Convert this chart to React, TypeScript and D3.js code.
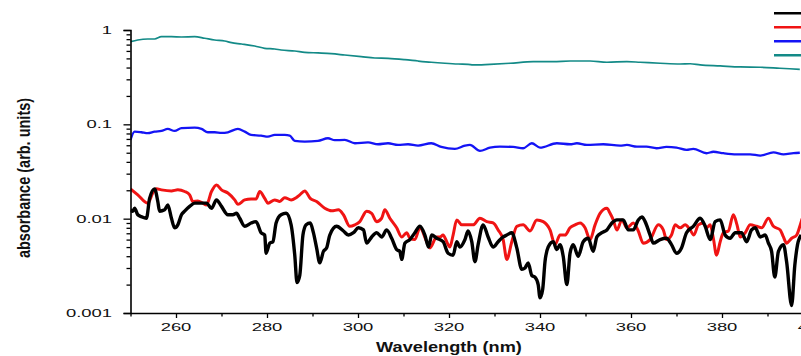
import { useRef, useEffect } from "react";
import * as d3 from "d3";

// absorbance spectra, wavelengths in nm
const blackNm = [250, 250.5, 250.9, 251.6, 252.4, 253.5, 254.2, 255.3, 256.0, 256.4, 257.5, 258.2, 259.0, 259.7, 260.4, 261.2, 261.9, 263.0, 264.1, 265.2, 266.7, 267.8, 268.9, 270.0, 271.4, 272.5, 273.3, 274.0, 275.1, 276.5, 277.6, 278.7, 279.5, 279.8, 280.6, 281.3, 282.0, 283.1, 284.2, 285.3, 286.1, 286.6, 287.2, 287.9, 288.6, 289.5, 290.2, 290.9, 291.6, 292.4, 293.1, 293.8, 295.3, 296.8, 297.9, 299.0, 300.1, 301.2, 301.9, 303.0, 304.1, 305.2, 306.3, 307.4, 308.5, 309.2, 309.6, 310.3, 311.4, 312.5, 313.6, 314.7, 315.5, 316.2, 317.3, 318.7, 319.8, 320.9, 321.7, 322.4, 323.5, 324.2, 325.0, 325.7, 326.4, 327.5, 328.6, 329.7, 330.8, 331.9, 332.7, 333.8, 334.9, 336.0, 336.7, 337.4, 338.2, 338.9, 339.6, 340.0, 340.6, 341.1, 341.8, 342.9, 343.7, 344.4, 345.1, 345.9, 346.6, 347.3, 348.4, 349.5, 350.6, 351.7, 352.5, 353.6, 354.7, 355.8, 356.9, 358.3, 359.4, 360.5, 361.6, 362.4, 363.1, 364.2, 364.9, 366.4, 367.8, 368.9, 370.0, 371.1, 372.2, 373.7, 375.2, 376.3, 377.4, 378.5, 379.6, 380.7, 381.8, 382.9, 384.3, 385.4, 386.5, 387.3, 388.4, 389.5, 390.2, 390.9, 391.6, 392.4, 393.5, 394.2, 395.3, 396.0, 396.6, 397.4];
const blackAbs = [0.0124, 0.012, 0.0129, 0.011, 0.0105, 0.0101, 0.0164, 0.0207, 0.0152, 0.012, 0.0124, 0.014, 0.0101, 0.008, 0.0086, 0.011, 0.012, 0.0135, 0.0146, 0.0146, 0.0146, 0.0129, 0.0158, 0.0135, 0.011, 0.011, 0.0114, 0.0101, 0.0083, 0.009, 0.0093, 0.0071, 0.0067, 0.0043, 0.0055, 0.0057, 0.009, 0.011, 0.0114, 0.0086, 0.0041, 0.0021, 0.0025, 0.0067, 0.0086, 0.009, 0.0071, 0.0049, 0.0034, 0.0045, 0.0049, 0.0067, 0.0083, 0.0074, 0.0067, 0.0071, 0.008, 0.0076, 0.0055, 0.0064, 0.0071, 0.0064, 0.0076, 0.0062, 0.0047, 0.0045, 0.0037, 0.0055, 0.006, 0.0071, 0.0083, 0.0067, 0.005, 0.0067, 0.0062, 0.0057, 0.0043, 0.0041, 0.0057, 0.005, 0.006, 0.0074, 0.0057, 0.0035, 0.0053, 0.0086, 0.0064, 0.005, 0.0057, 0.0064, 0.0067, 0.0071, 0.0049, 0.0029, 0.003, 0.0034, 0.0025, 0.0024, 0.002, 0.00145, 0.0018, 0.0035, 0.005, 0.0057, 0.0047, 0.0053, 0.004, 0.002, 0.0043, 0.0053, 0.004, 0.0057, 0.0062, 0.0045, 0.0064, 0.0071, 0.0076, 0.009, 0.0097, 0.0097, 0.0076, 0.0076, 0.0097, 0.0104, 0.0093, 0.0067, 0.0055, 0.006, 0.0062, 0.0053, 0.0043, 0.0049, 0.0071, 0.0083, 0.0101, 0.0083, 0.006, 0.0093, 0.0097, 0.0067, 0.0062, 0.0071, 0.0071, 0.0057, 0.0076, 0.008, 0.0064, 0.0067, 0.0055, 0.0045, 0.0024, 0.0045, 0.0053, 0.0035, 0.0012, 0.0032, 0.0053, 0.0067];

const redNm = [250, 251.6, 253.8, 254.9, 255.7, 256.8, 259.0, 260.4, 261.9, 263.0, 263.7, 264.8, 265.9, 266.7, 267.8, 268.9, 270.0, 271.4, 272.9, 273.6, 275.1, 276.5, 277.6, 278.4, 279.5, 280.2, 281.7, 282.8, 283.9, 285.3, 286.4, 287.2, 288.3, 289.5, 290.9, 292.7, 294.2, 295.7, 296.8, 298.2, 299.3, 300.4, 301.9, 303.0, 304.1, 305.2, 305.9, 307.0, 308.5, 309.6, 310.7, 311.4, 312.5, 313.6, 315.1, 315.8, 317.3, 318.0, 318.7, 319.5, 320.2, 320.9, 321.7, 322.8, 323.9, 325.3, 326.8, 328.3, 329.7, 330.8, 331.9, 332.7, 333.8, 334.9, 336.3, 337.8, 339.3, 340.7, 342.2, 343.3, 344.4, 345.5, 346.6, 347.7, 348.8, 349.9, 351.0, 352.1, 353.2, 354.7, 355.4, 356.1, 356.9, 358.0, 359.1, 360.5, 361.6, 362.7, 364.2, 366.0, 367.1, 367.8, 368.9, 369.7, 370.8, 371.9, 373.0, 373.8, 374.8, 375.9, 376.6, 377.4, 378.1, 378.8, 379.6, 380.3, 381.4, 382.5, 383.3, 384.0, 385.1, 386.2, 387.6, 388.7, 390.2, 391.3, 392.8, 393.5, 394.2, 395.3, 396.4, 397.2, 397.6];
const redAbs = [0.0207, 0.0179, 0.0146, 0.0187, 0.0207, 0.0202, 0.0197, 0.0202, 0.0194, 0.0179, 0.0152, 0.0154, 0.0146, 0.014, 0.0194, 0.0228, 0.0202, 0.0187, 0.0158, 0.0142, 0.0158, 0.0162, 0.0162, 0.0194, 0.0164, 0.0146, 0.0158, 0.0152, 0.0167, 0.0158, 0.0167, 0.0179, 0.0197, 0.0164, 0.0152, 0.0129, 0.0121, 0.0124, 0.011, 0.0083, 0.0086, 0.0093, 0.012, 0.0114, 0.0093, 0.0101, 0.0124, 0.0101, 0.008, 0.0064, 0.0071, 0.0062, 0.006, 0.008, 0.0057, 0.0049, 0.0064, 0.0064, 0.0067, 0.0057, 0.005, 0.0067, 0.0097, 0.0086, 0.0086, 0.0086, 0.0101, 0.0093, 0.009, 0.0076, 0.006, 0.0037, 0.0057, 0.0083, 0.0086, 0.0074, 0.0097, 0.0093, 0.0076, 0.0053, 0.0067, 0.0067, 0.008, 0.0086, 0.009, 0.008, 0.006, 0.0086, 0.0114, 0.0129, 0.0114, 0.0097, 0.0076, 0.0097, 0.008, 0.009, 0.0074, 0.0055, 0.006, 0.0086, 0.0076, 0.006, 0.0067, 0.0086, 0.008, 0.0086, 0.0076, 0.0067, 0.0086, 0.009, 0.008, 0.0086, 0.0062, 0.0041, 0.0057, 0.0071, 0.0074, 0.011, 0.0086, 0.0064, 0.0071, 0.0086, 0.0083, 0.008, 0.0101, 0.0083, 0.0076, 0.0064, 0.0055, 0.0062, 0.0067, 0.0086, 0.01];

const blueNm = [250, 250.9, 252.4, 253.8, 255.3, 256.8, 258.2, 259.7, 261.2, 264.1, 265.6, 267.0, 268.5, 270.0, 271.4, 273.6, 275.1, 276.5, 278.7, 280.2, 281.7, 283.9, 285.0, 286.1, 288.3, 291.2, 293.4, 294.9, 297.1, 299.3, 302.2, 304.4, 306.6, 308.8, 311.0, 313.2, 316.1, 318.3, 321.3, 323.5, 324.6, 326.8, 329.0, 331.2, 334.1, 336.3, 338.2, 340.0, 343.7, 346.6, 348.1, 350.3, 353.9, 357.6, 359.1, 361.3, 363.4, 365.6, 367.8, 370.0, 372.2, 373.7, 376.6, 378.1, 380.3, 383.2, 386.2, 388.4, 391.3, 393.5, 395.7, 397.1];
const blueAbs = [0.0684, 0.0837, 0.0824, 0.0805, 0.0837, 0.0851, 0.0894, 0.0851, 0.091, 0.0923, 0.0894, 0.0824, 0.0824, 0.0811, 0.0824, 0.0894, 0.0837, 0.0772, 0.076, 0.0741, 0.0772, 0.0772, 0.076, 0.0667, 0.0656, 0.0667, 0.0712, 0.0679, 0.0684, 0.063, 0.0645, 0.0615, 0.063, 0.0605, 0.0615, 0.0595, 0.063, 0.0576, 0.0549, 0.0595, 0.0605, 0.0523, 0.0566, 0.058, 0.0576, 0.0558, 0.063, 0.0566, 0.063, 0.0615, 0.063, 0.0605, 0.0615, 0.0595, 0.0605, 0.058, 0.058, 0.0558, 0.0576, 0.0566, 0.0536, 0.0549, 0.0494, 0.0512, 0.0494, 0.0481, 0.0481, 0.0466, 0.0505, 0.0481, 0.0494, 0.05];

const tealNm = [250, 251.6, 253.8, 255.3, 256.8, 259.0, 261.2, 264.1, 266.3, 268.5, 270.7, 272.2, 274.4, 277.3, 279.5, 281.7, 283.1, 286.1, 288.3, 291.2, 294.1, 297.1, 300.7, 303.7, 306.6, 310.3, 313.2, 316.1, 319.1, 322.0, 324.2, 325.3, 329.0, 333.4, 338.5, 342.9, 346.6, 351.0, 354.7, 359.1, 362.0, 366.4, 370.8, 373.0, 375.2, 379.6, 384.0, 388.4, 392.7, 397.1];
const tealAbs = [0.752, 0.784, 0.803, 0.803, 0.849, 0.849, 0.843, 0.849, 0.817, 0.784, 0.765, 0.734, 0.711, 0.677, 0.64, 0.629, 0.614, 0.599, 0.58, 0.571, 0.561, 0.543, 0.522, 0.505, 0.501, 0.485, 0.469, 0.455, 0.444, 0.436, 0.433, 0.426, 0.433, 0.444, 0.462, 0.462, 0.469, 0.469, 0.455, 0.462, 0.455, 0.444, 0.436, 0.439, 0.426, 0.416, 0.406, 0.403, 0.393, 0.383];

const xMajorTicks = [260, 280, 300, 320, 340, 360, 380, 400];
const xMinorTicks = [250, 270, 290, 310, 330, 350, 370, 390];
const yMajorTicks = [0.001, 0.01, 0.1, 1];
const yTickLabels = ["0.001", "0.01", "0.1", "1"];

type Series = { nm: number[]; abs: number[]; color: string; width: number };

const seriesList: Series[] = [
  { nm: tealNm, abs: tealAbs, color: "#138a87", width: 1.7 },
  { nm: blueNm, abs: blueAbs, color: "#1414f5", width: 2.3 },
  { nm: redNm, abs: redAbs, color: "#f01414", width: 3 },
  { nm: blackNm, abs: blackAbs, color: "#000000", width: 3.4 },
];

const legendColors = ["#000000", "#f01414", "#1414f5", "#138a87"];

export default function App() {
  const ref = useRef<SVGSVGElement>(null);

  useEffect(() => {
    if (!ref.current) return;
    const svg = d3.select(ref.current);
    svg.selectAll("*").remove();

    const font = "'Liberation Sans', Arial, sans-serif";
    const left = 130.5, bottom = 313, top = 30;

    const x = d3.scaleLinear().domain([250, 400]).range([left, left + 150 * 4.55]);
    const y = d3.scaleLog().domain([0.001, 1]).range([bottom, top]);

    svg.append("clipPath").attr("id", "plotclip")
      .append("rect").attr("x", left).attr("y", 0).attr("width", 801 - left).attr("height", bottom);

    const line = d3.line<[number, number]>()
      .x(d => x(d[0]))
      .y(d => y(d[1]))
      .curve(d3.curveMonotoneX);

    const plot = svg.append("g").attr("clip-path", "url(#plotclip)");
    seriesList.forEach(s => {
      const pts: [number, number][] = s.nm.map((n, i) => [n, s.abs[i]]);
      plot.append("path")
        .datum(pts)
        .attr("d", line)
        .attr("fill", "none")
        .attr("stroke", s.color)
        .attr("stroke-width", s.width)
        .attr("stroke-linejoin", "round");
    });

    // minor log ticks
    const yMinor: number[] = [];
    [0.001, 0.01, 0.1].forEach(d => {
      for (let k = 2; k <= 9; k++) yMinor.push(d * k);
    });

    const yAxis = svg.append("g").attr("transform", `translate(${left},0)`);
    yAxis.call(d3.axisLeft(y).tickValues(yMajorTicks).tickSize(7).tickFormat(() => ""));
    yAxis.append("g").call(d3.axisLeft(y).tickValues(yMinor).tickSize(4).tickFormat(() => ""));
    yAxis.selectAll("path.domain").attr("stroke-width", 1.6);
    yAxis.selectAll(".tick line").attr("stroke-width", 1.3);
    yAxis.selectAll("g g path.domain").remove();

    const xAxis = svg.append("g").attr("transform", `translate(0,${bottom})`);
    xAxis.call(d3.axisBottom(x).tickValues(xMajorTicks).tickSize(5).tickFormat(() => "").tickSizeOuter(0));
    xAxis.append("g").call(d3.axisBottom(x).tickValues(xMinorTicks).tickSize(3.5).tickFormat(() => "").tickSizeOuter(0));
    xAxis.selectAll("path.domain").attr("stroke-width", 1.6);
    xAxis.selectAll(".tick line").attr("stroke-width", 1.3);
    xAxis.selectAll("g g path.domain").remove();

    // stretched tick labels
    yMajorTicks.forEach((v, i) => {
      svg.append("text")
        .attr("transform", `translate(112,${y(v) + 4}) scale(1.6,1)`)
        .attr("text-anchor", "end")
        .attr("font-family", font)
        .attr("font-size", 11.5)
        .attr("fill", "#111")
        .text(yTickLabels[i]);
    });
    xMajorTicks.forEach(v => {
      svg.append("text")
        .attr("transform", `translate(${x(v)},${bottom + 18}) scale(1.6,1)`)
        .attr("text-anchor", "middle")
        .attr("font-family", font)
        .attr("font-size", 11.5)
        .attr("fill", "#111")
        .text(String(v));
    });

    svg.append("text")
      .attr("transform", `translate(${x(320)},352) scale(1.3,1)`)
      .attr("text-anchor", "middle")
      .attr("font-family", font)
      .attr("font-weight", "bold")
      .attr("font-size", 14)
      .attr("fill", "#111")
      .text("Wavelength (nm)");

    svg.append("text")
      .attr("transform", `translate(30,178) scale(1.3,1) rotate(-90)`)
      .attr("text-anchor", "middle")
      .attr("font-family", font)
      .attr("font-weight", "bold")
      .attr("font-size", 14.5)
      .attr("fill", "#111")
      .text("absorbance (arb. units)");

    // legend, labels fall outside the visible area
    legendColors.forEach((c, i) => {
      svg.append("line")
        .attr("x1", 774).attr("x2", 810)
        .attr("y1", 13.3 + i * 14).attr("y2", 13.3 + i * 14)
        .attr("stroke", c)
        .attr("stroke-width", 2.6);
    });
  }, []);

  return (
    <svg
      ref={ref}
      width={801}
      height={356}
      style={{ position: "fixed", left: 0, top: 0, background: "#fff" }}
    />
  );
}
